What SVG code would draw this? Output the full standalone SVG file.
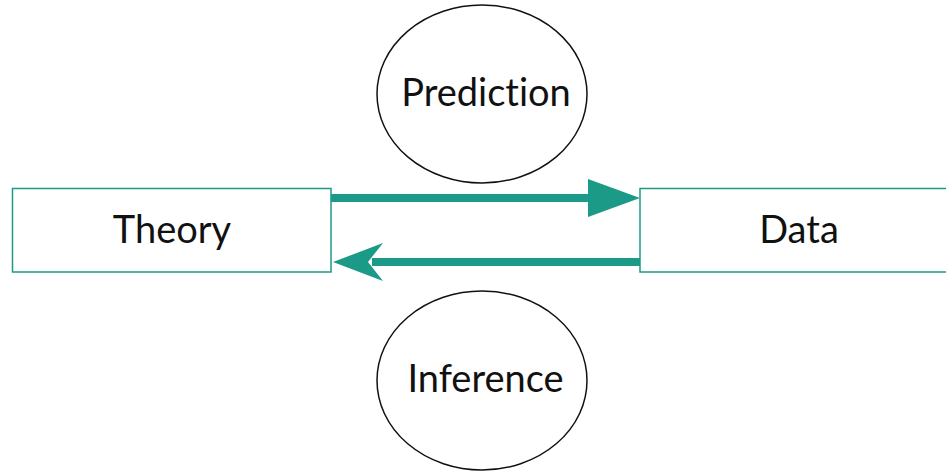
<svg xmlns="http://www.w3.org/2000/svg" width="946" height="472" viewBox="0 0 946 472">
<style>
.box{fill:#fff;stroke:#1b9a87;stroke-width:1.5}
.ell{fill:#fff;stroke:#111;stroke-width:1.5}
.lbl{font-family:Lato,"Open Sans",sans-serif;font-size:38px;fill:#111;text-anchor:middle;font-variant-ligatures:none}
.edge{stroke:#1b9a87;stroke-width:8;fill:none}
.head{fill:#1b9a87}
</style>
<rect width="946" height="472" fill="#fff"/>
<g id="connectors">
<line class="edge" x1="331" y1="198" x2="592" y2="198"/>
<polygon class="head" points="640,198 588,179 588,217"/>
<line class="edge" x1="640" y1="262" x2="372" y2="262"/>
<polygon class="head" points="333,262 383,243 368,262 383,281"/>
</g>
<g id="theory">
<rect class="box" x="12.5" y="188.5" width="318.5" height="83.5"/>
<text class="lbl" x="172" y="243">Theory</text>
</g>
<g id="data">
<rect class="box" x="640" y="188.5" width="320" height="83.5"/>
<text class="lbl" x="799" y="243">Data</text>
</g>
<g id="prediction">
<ellipse class="ell" cx="482" cy="94" rx="105" ry="89"/>
<text class="lbl" x="486" y="106">Prediction</text>
</g>
<g id="inference">
<ellipse class="ell" cx="482" cy="380.5" rx="105" ry="89.5"/>
<text class="lbl" x="485.5" y="392">Inference</text>
</g>
</svg>
